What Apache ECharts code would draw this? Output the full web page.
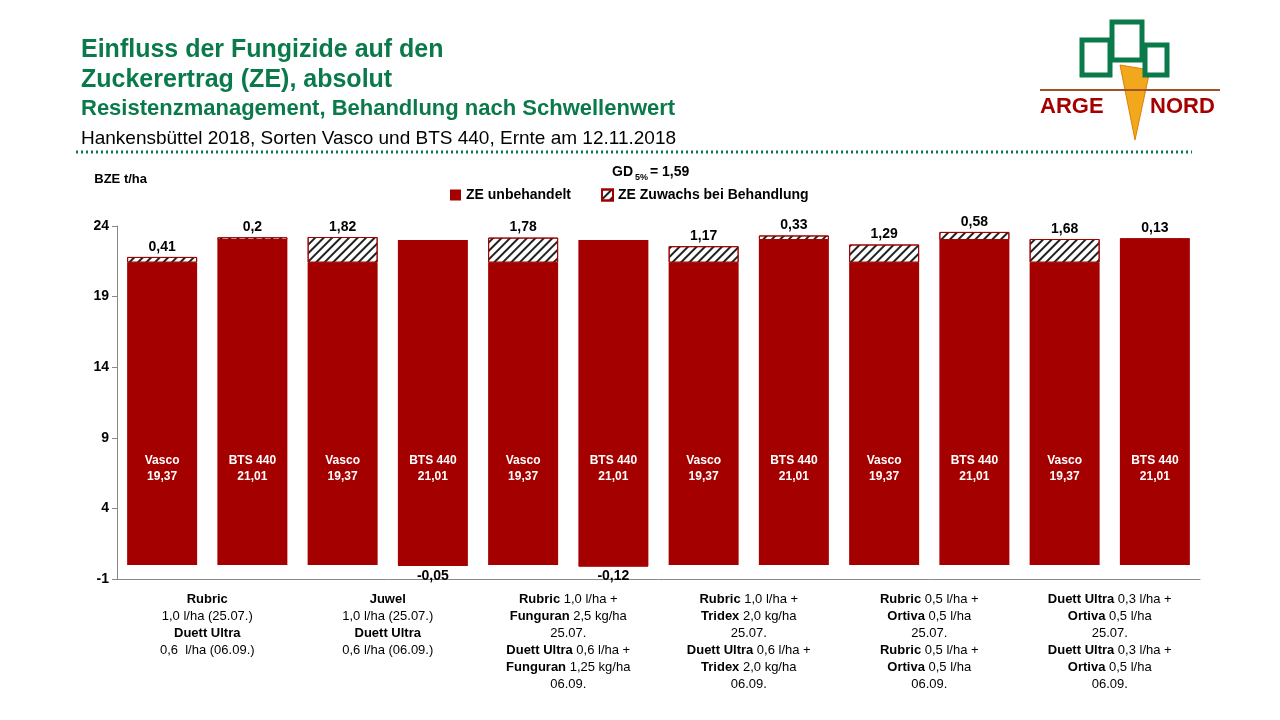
<!DOCTYPE html>
<html><head><meta charset="utf-8">
<script src="https://cdn.jsdelivr.net/npm/echarts@6/dist/echarts.min.js"></script>
<style>html,body{margin:0;background:#fff}#main{width:1280px;height:720px}</style>
</head><body><div id="main"></div>
<script>
var categories = ['V1','B1','V2','B2','V3','B3','V4','B4','V5','B5','V6','B6'];
var untreated = [21.4,23.0,21.4,23.0,21.4,23.0,21.4,23.0,21.4,23.0,21.4,23.0];
var increase = [0.41,0.2,1.82,-0.05,1.78,-0.12,1.17,0.33,1.29,0.58,1.68,0.13];
var innerLabels = ['Vasco\n19,37','BTS 440\n21,01'];
var groupLabels = [
  '{b|Rubric}\n1,0 l/ha (25.07.)\n{b|Duett Ultra}\n0,6  l/ha (06.09.)',
  '{b|Juwel}\n1,0 l/ha (25.07.)\n{b|Duett Ultra}\n0,6 l/ha (06.09.)',
  '{b|Rubric} 1,0 l/ha +\n{b|Funguran} 2,5 kg/ha\n25.07.\n{b|Duett Ultra} 0,6 l/ha +\n{b|Funguran} 1,25 kg/ha\n06.09.',
  '{b|Rubric} 1,0 l/ha +\n{b|Tridex} 2,0 kg/ha\n25.07.\n{b|Duett Ultra} 0,6 l/ha +\n{b|Tridex} 2,0 kg/ha\n06.09.',
  '{b|Rubric} 0,5 l/ha +\n{b|Ortiva} 0,5 l/ha\n25.07.\n{b|Rubric} 0,5 l/ha +\n{b|Ortiva} 0,5 l/ha\n06.09.',
  '{b|Duett Ultra} 0,3 l/ha +\n{b|Ortiva} 0,5 l/ha\n25.07.\n{b|Duett Ultra} 0,3 l/ha +\n{b|Ortiva} 0,5 l/ha\n06.09.'
];
var yTicks = [-1, 4, 9, 14, 19, 24];
var green = '#0A7A4A', red = '#A50000';
var hatch = {symbol:'rect', color:'#222', dashArrayX:[1,0], dashArrayY:[1.5,3.5], rotation:-Math.PI/4};

var chart = echarts.init(document.getElementById('main'));
var option = {
  animation:false,
  textStyle:{fontFamily:'Arial, Liberation Sans'},
  title:[
    {text:'Einfluss der Fungizide auf den\nZuckerertrag (ZE), absolut', left:76, top:30,
     textStyle:{color:green, fontSize:25, fontWeight:'bold', lineHeight:30}},
    {text:'Resistenzmanagement, Behandlung nach Schwellenwert', left:76, top:93,
     textStyle:{color:green, fontSize:22, fontWeight:'bold'}},
    {text:'Hankensbüttel 2018, Sorten Vasco und BTS 440, Ernte am 12.11.2018', left:76, top:124,
     textStyle:{color:'#000', fontSize:19, fontWeight:'normal'}}
  ],
  legend:{top:183, left:445, itemGap:30, itemWidth:11, itemHeight:11, icon:'rect',
    textStyle:{fontSize:14, fontWeight:'bold', color:'#000'},
    data:['ZE unbehandelt','ZE Zuwachs bei Behandlung']},
  grid:{left:117, right:80, top:226, bottom:141},
  xAxis:[
    {type:'category', data:categories, axisTick:{show:false}, axisLabel:{show:false},
     axisLine:{show:false}},
    {type:'category', data:groupLabels, position:'bottom', gridIndex:0,
     axisLine:{show:true, onZero:false, lineStyle:{color:'#888'}}, axisTick:{show:false},
     axisLabel:{color:'#000', fontSize:13, lineHeight:17, margin:12, interval:0, rich:{b:{fontWeight:'bold', fontSize:13}}}}
  ],
  yAxis:{type:'value', min:-1, max:24, interval:5,
    name:'BZE t/ha', nameLocation:'end', nameGap:40,
    nameTextStyle:{fontSize:13, fontWeight:'bold', color:'#000', align:'right', padding:[0,-30,0,0]},
    axisLine:{show:true, lineStyle:{color:'#888'}}, axisTick:{show:true, inside:false, lineStyle:{color:'#888'}},
    splitLine:{show:false},
    axisLabel:{fontSize:14, fontWeight:'bold', color:'#000',
      formatter:function(v){return yTicks.indexOf(v)>=0 ? String(v) : '';}}},
  series:[
    {name:'ZE unbehandelt', type:'bar', stack:'a', barWidth:70,
     itemStyle:{color:red},
     label:{show:true, position:'insideBottom', distance:80, color:'#fff', fontSize:12, fontWeight:'bold', lineHeight:16,
       formatter:function(p){return innerLabels[p.dataIndex%2];}},
     data:untreated},
    {name:'ZE Zuwachs bei Behandlung', type:'bar', stack:'a', barWidth:70,
     itemStyle:{color:'#fff', borderColor:red, borderWidth:1, decal:hatch},
     label:{show:true, fontSize:14, fontWeight:'bold', color:'#000', distance:3,
       position:'top', formatter:function(p){return String(p.value).replace('.',',');}},
     data:increase.map(function(v){return v<0?{value:v,label:{position:'bottom'}}:v;})}
  ],
  aria:{enabled:true, decal:{show:false}},
  graphic:[
    {type:'line', shape:{x1:76,y1:152,x2:1192,y2:152}, style:{stroke:green, lineWidth:3, lineDash:[2,3]}},
    {type:'text', left:612, top:165, style:{text:'GD', font:'bold 14px Arial', fill:'#000'}},
    {type:'text', left:635, top:173, style:{text:'5%', font:'bold 9px Arial', fill:'#000'}},
    {type:'text', left:650, top:165, style:{text:'= 1,59', font:'bold 14px Arial', fill:'#000'}},
    {type:'polygon', shape:{points:[[1120,65],[1150,70],[1135,140]]}, style:{fill:'#F2A81D', stroke:'#E08000'}},
    {type:'rect', shape:{x:1082,y:40,width:28,height:35}, style:{fill:'#fff', stroke:green, lineWidth:5}},
    {type:'rect', shape:{x:1112,y:22,width:30,height:38}, style:{fill:'#fff', stroke:green, lineWidth:5}},
    {type:'rect', shape:{x:1145,y:45,width:22,height:30}, style:{fill:'#fff', stroke:green, lineWidth:5}},
    {type:'line', shape:{x1:1040,y1:90,x2:1220,y2:90}, style:{stroke:'#A0522D', lineWidth:2}},
    {type:'text', left:1040, top:96, style:{text:'ARGE', font:'bold 22px Arial', fill:red}},
    {type:'text', left:1150, top:96, style:{text:'NORD', font:'bold 22px Arial', fill:red}}
  ]
};
chart.setOption(option);
</script></body></html>
